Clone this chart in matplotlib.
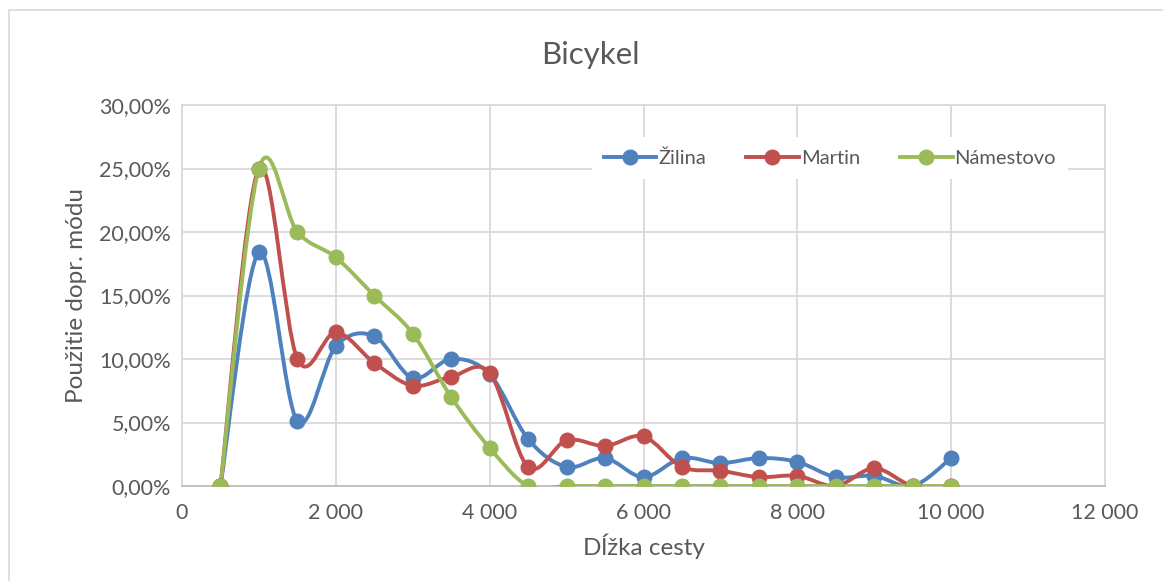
import numpy as np
import matplotlib
matplotlib.use("Agg")
import matplotlib.pyplot as plt
from matplotlib.path import Path
from matplotlib.patches import PathPatch
from matplotlib.lines import Line2D
from matplotlib.ticker import FuncFormatter, MultipleLocator

plt.rcParams['font.family'] = ['Lato', 'DejaVu Sans']

# Trip length (m) and share of the bicycle mode (%)
distance = [500, 1000, 1500, 2000, 2500, 3000, 3500, 4000, 4500, 5000,
            5500, 6000, 6500, 7000, 7500, 8000, 8500, 9000, 9500, 10000]
zilina = [0.0, 18.4, 5.1, 11.0, 11.8, 8.5, 10.0, 8.8, 3.7, 1.5,
          2.2, 0.7, 2.2, 1.8, 2.2, 1.9, 0.7, 0.8, 0.0, 2.2]
martin = [0.0, 25.0, 10.0, 12.1, 9.7, 7.9, 8.6, 8.9, 1.5, 3.6,
          3.15, 3.9, 1.5, 1.2, 0.7, 0.8, 0.0, 1.4, 0.0, 0.0]
namestovo = [0.0, 25.0, 20.0, 18.0, 15.0, 12.0, 7.0, 3.0, 0.0, 0.0,
             0.0, 0.0, 0.0, 0.0, 0.0, 0.0, 0.0, 0.0, 0.0, 0.0]
series_names = ["Žilina", "Martin", "Námestovo"]
colors = ["#4F81BD", "#C0504D", "#9BBB59"]

TEXT = "#595959"
GRID = "#D9D9D9"


def smooth_path(x, y):
    """Catmull-Rom style cubic Bezier through every point."""
    pts = np.column_stack([x, y]).astype(float)
    n = len(pts)
    verts = [pts[0]]
    codes = [Path.MOVETO]
    for i in range(n - 1):
        p0 = pts[i - 1] if i > 0 else pts[i]
        p1 = pts[i]
        p2 = pts[i + 1]
        p3 = pts[i + 2] if i + 2 < n else pts[i + 1]
        c1 = p1 + (p2 - p0) / 6.0
        c2 = p2 - (p3 - p1) / 6.0
        verts += [c1, c2, p2]
        codes += [Path.CURVE4] * 3
    return Path(verts, codes)


fig = plt.figure(figsize=(11.63, 5.81), dpi=100)
ax = fig.add_axes([182 / 1163, 1 - 486 / 581, 923 / 1163, 381 / 581])

# Chart area frame
fig.add_artist(Line2D([9 / 1163, 9 / 1163], [0, 1 - 10 / 581], transform=fig.transFigure,
                      color=GRID, lw=1.2))
fig.add_artist(Line2D([9 / 1163, 1], [1 - 10 / 581, 1 - 10 / 581], transform=fig.transFigure,
                      color=GRID, lw=1.2))

for vals, name, col in zip([zilina, martin, namestovo], series_names, colors):
    patch = PathPatch(smooth_path(distance, vals), facecolor="none", edgecolor=col,
                      lw=2.8, capstyle="round", joinstyle="round", zorder=3)
    ax.add_patch(patch)
    ax.plot(distance, vals, linestyle="none", marker="o", markersize=10.5,
            color=col, zorder=4)

ax.set_xlim(0, 12000)
ax.set_ylim(0, 30)
ax.xaxis.set_major_locator(MultipleLocator(2000))
ax.yaxis.set_major_locator(MultipleLocator(5))
ax.xaxis.set_major_formatter(FuncFormatter(lambda v, p: f"{int(v):,}".replace(",", " ")))
ax.yaxis.set_major_formatter(FuncFormatter(lambda v, p: f"{v:.2f}".replace(".", ",") + "%"))
ax.grid(True, color=GRID, lw=1.3, zorder=0)
ax.set_axisbelow(True)
for s in ax.spines.values():
    s.set_color(GRID)
    s.set_linewidth(1.3)
ax.spines['bottom'].set_color("#BFBFBF")
ax.tick_params(length=0, labelsize=15.5, labelcolor=TEXT, pad=8)
ax.tick_params(axis='x', pad=12)

ax.set_xlabel("Dĺžka cesty", fontsize=17.5, color=TEXT, labelpad=8)
ax.set_ylabel("Použitie dopr. módu", fontsize=17.5, color=TEXT, labelpad=9)
fig.text(590 / 1163, 1 - 55 / 581, "Bicykel", fontsize=22.5, color=TEXT,
         ha="center", va="center")

handles = [Line2D([], [], color=c, lw=2.8, marker="o", markersize=10.5) for c in colors]
leg = ax.legend(handles, series_names, loc="center", bbox_to_anchor=(0.702, 0.861),
                ncol=3, frameon=True, fontsize=14.5, handlelength=2.6,
                columnspacing=2.0, handletextpad=0.1, borderpad=0.6)
leg.get_frame().set_edgecolor("none")
leg.get_frame().set_facecolor("white")
leg.get_frame().set_alpha(1)
leg.get_frame().set_boxstyle("square", pad=0)
for t in leg.get_texts():
    t.set_color(TEXT)

fig.savefig("out.png", dpi=100, facecolor="white")
